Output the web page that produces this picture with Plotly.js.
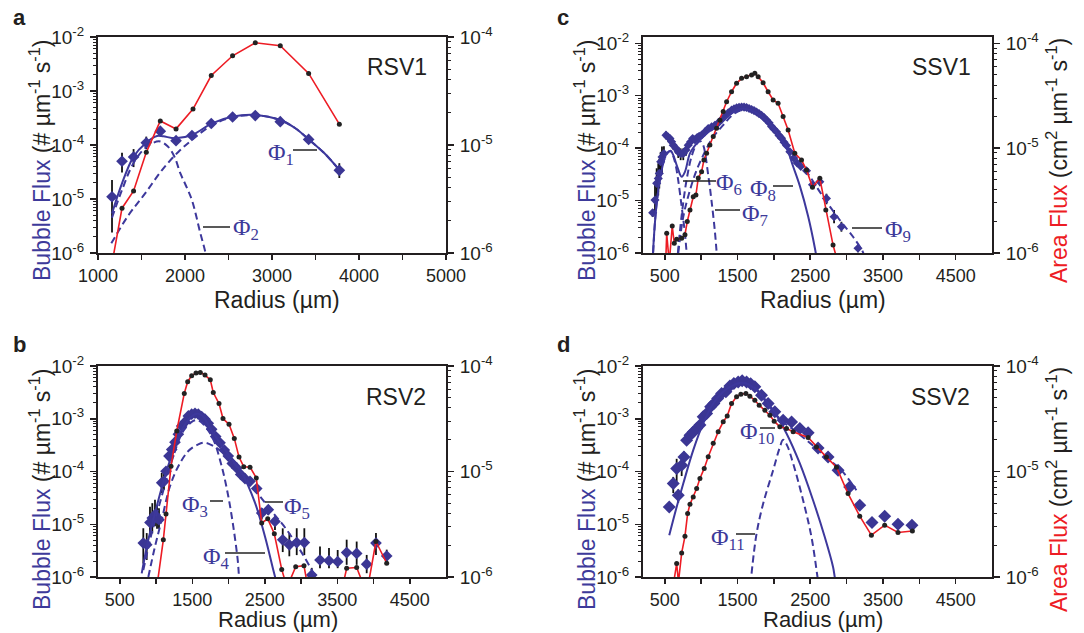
<!DOCTYPE html>
<html><head><meta charset="utf-8">
<script src="https://cdn.plot.ly/plotly-3.0.1.min.js"></script>
<style>html,body{margin:0;padding:0;background:#fff;}#chart{width:1084px;height:633px;}</style>
</head><body><div id="chart"></div>
<script>
// ---------------- Panel a (RSV1) ----------------
const aR = [1161,1276,1409,1555,1716,1897,2080,2302,2547,2808,3095,3421,3774];
const aBubble = [1.1e-5,5.0e-5,6.0e-5,1.1e-4,1.8e-4,1.2e-4,1.5e-4,2.5e-4,3.3e-4,3.5e-4,2.7e-4,1.27e-4,3.4e-5];
const aErrHi = [1.15e-5,2.2e-5,2.4e-5,3.3e-5,1.5e-5,1.2e-5,1.2e-5,1.5e-5,1.5e-5,1.5e-5,1.5e-5,1.2e-5,1.2e-5];
const aErrLo = [8.6e-6,1.9e-5,2.1e-5,2.6e-5,1.5e-5,1.2e-5,1.2e-5,1.5e-5,1.5e-5,1.5e-5,1.5e-5,1.2e-5,9.5e-6];
const aAreaR = [1161,1276,1409,1555,1716,1897,2092,2302,2547,2808,3095,3421,3774];
const aArea = [8e-7,2.6e-6,3.75e-6,8.55e-6,1.67e-5,1.41e-5,2.15e-5,4.4e-5,6.7e-5,8.85e-5,8.3e-5,4.6e-5,1.56e-5];
const aFitR = [1161,1276,1409,1544,1678,1750,1888,2080,2310,2540,2809,3095,3268,3417,3600,3774];
const aFitSum = [5.4e-6,1.95e-5,6.1e-5,1.07e-4,1.47e-4,1.45e-4,1.33e-4,1.53e-4,2.52e-4,3.34e-4,3.6e-4,2.9e-4,2.04e-4,1.29e-4,7.1e-5,3.44e-5];
const aPhi1R = [1153,1352,1544,1736,1926,2080,2310,2540,2809,3095,3268,3417,3600,3774];
const aPhi1 = [1.51e-6,5.06e-6,1.28e-5,3.44e-5,7.52e-5,1.24e-4,2.34e-4,3.24e-4,3.56e-4,2.9e-4,2.04e-4,1.29e-4,7.1e-5,3.44e-5];
const aPhi2R = [1161,1276,1409,1544,1700,1800,1880,1946,2010,2080,2176,2233,2270];
const aPhi2 = [4.5e-6,1.47e-5,4.65e-5,8.8e-5,1.17e-4,9.5e-5,6.0e-5,3.0e-5,1.78e-5,9.5e-6,2.34e-6,1.05e-6,5e-7];

// ---------------- Panel b (RSV2) ----------------
const bR = [825,872,917,949,986,1014,1041,1079,1110,1138,1179,1217,1262,1308,1354,1400,1446,1492,1538,1583,1630,1676,1721,1768,1823,1883,1942,1997,2052,2113,2168,2228,2297,2389,2458,2549,2641,2748,2839,2941,3046,3148,3262,3386,3506,3630,3768,3906,4034,4182];
const bBubble = [4.4e-6,4.1e-6,1.08e-5,1.31e-5,1.52e-5,1.32e-5,1.22e-5,6.1e-5,6.5e-5,1.01e-4,1.96e-4,2.6e-4,3.6e-4,5.1e-4,7.3e-4,8.7e-4,1.13e-3,1.22e-3,1.27e-3,1.22e-3,1.1e-3,9.8e-4,8.2e-4,6.3e-4,4.6e-4,3.5e-4,2.55e-4,1.96e-4,1.42e-4,1.17e-4,8.8e-5,7.3e-5,6.5e-5,4.74e-5,1.63e-5,1.89e-5,1.13e-5,5.07e-6,4.07e-6,4.5e-6,4.5e-6,1.09e-6,2.1e-6,2.04e-6,1.95e-6,2.9e-6,2.8e-6,1.75e-6,4.4e-6,2.5e-6];
const bErrHi = [4.0e-6,2.7e-6,1.07e-5,1.2e-5,1.4e-5,1.0e-5,8e-6,3.3e-5,3.0e-5,2e-5,1.5e-5,2e-5,2.5e-5,3e-5,4e-5,5e-5,6e-5,6e-5,6e-5,6e-5,5e-5,5e-5,4e-5,3e-5,2.5e-5,2e-5,1.5e-5,1.2e-5,1e-5,8e-6,7e-6,6e-6,6e-6,6e-6,4e-6,4e-6,2.7e-6,3.3e-6,2.7e-6,3.9e-6,3.9e-6,4e-7,1.7e-6,1.5e-6,1.3e-6,2.2e-6,1.9e-6,8.7e-7,2.4e-6,8e-7];
const bErrLo = [2.6e-6,2e-6,5e-6,6.4e-6,6e-6,5e-6,4e-6,2.2e-5,2e-5,2e-5,1.5e-5,2e-5,2.5e-5,3e-5,4e-5,5e-5,6e-5,6e-5,6e-5,6e-5,5e-5,5e-5,4e-5,3e-5,2.5e-5,2e-5,1.5e-5,1.2e-5,1e-5,8e-6,7e-6,6e-6,6e-6,6e-6,4e-6,4e-6,3.5e-6,2.1e-6,1.6e-6,1.9e-6,1.9e-6,5e-7,6.3e-7,5.7e-7,4.8e-7,1.2e-6,1.1e-6,5.7e-7,1.8e-6,5.5e-7];
const bAreaR = [1000,1101,1138,1207,1286,1390,1437,1492,1552,1611,1676,1749,1790,1869,1924,2007,2080,2145,2210,2297,2383,2458,2541,2632,2734,2807,2927,3041,3148,3262,3386,3506,3630,3768,3906,4034,4182];
const bArea = [7e-7,2.25e-6,3.95e-6,1.12e-5,2.42e-5,5.5e-5,7.1e-5,8.1e-5,8.57e-5,8.7e-5,8.2e-5,7.4e-5,5.6e-5,4.4e-5,3.18e-5,2.8e-5,2.06e-5,1.37e-5,1.11e-5,1.1e-5,8.7e-6,3.25e-6,3.56e-6,2.57e-6,1.18e-6,8e-7,1.25e-6,1.28e-6,5e-7,4e-7,4e-7,5e-7,1.21e-6,1.23e-6,7e-7,2.17e-6,1.35e-6];
const bPhi4R = [803,894,1010,1124,1262,1400,1538,1630,1768,1997,2182,2366,2503,2618,2641,2660];
const bPhi4 = [1.17e-6,5.07e-6,2.18e-5,8.13e-5,3.03e-4,7.85e-4,1.22e-3,1.17e-3,5.86e-4,2.11e-4,9.44e-5,2.54e-5,5.86e-6,1.36e-6,1.02e-6,7.9e-7];
const bPhi3R = [825,941,1079,1239,1377,1514,1583,1676,1790,1906,1997,2066,2127,2145,2160];
const bPhi3 = [1.36e-6,6.79e-6,3.39e-5,1.95e-4,5.86e-4,9.08e-4,9.35e-4,7.3e-4,4.07e-4,1.26e-4,3.39e-5,9.08e-6,2.11e-6,1.01e-6,6.3e-7];
const bPhi5R = [894,986,1079,1193,1308,1446,1583,1676,1790,1928,2066,2251,2434,2618,2803,2986,3148,3193,3220];
const bPhi5 = [1e-6,3.78e-6,1.22e-5,5.25e-5,1.26e-4,2.44e-4,3.27e-4,3.52e-4,3.03e-4,2.27e-4,1.47e-4,7.05e-5,3.39e-5,1.63e-5,7.85e-6,3.27e-6,1.36e-6,1.02e-6,7.9e-7];

// ---------------- Panel c (SSV1) ----------------
const cR = [333,365,388,410,424,443,461,488,516,543,571,594,616,653,685,718,754,791,822,855,883,914,945,973,1006,1052,1097,1144,1189,1234,1281,1326,1372,1418,1452,1487,1521,1556,1590,1624,1659,1693,1727,1762,1796,1830,1865,1899,1934,1968,2002,2036,2071,2105,2140,2174,2220,2274,2320,2370,2449,2531,2632,2723,2828,2929,3157];
const cBubble = [5.86e-6,1.02e-5,2.13e-5,2.65e-5,3.3e-5,5.5e-5,6.8e-5,7.9e-5,1.77e-4,1.64e-4,1.53e-4,1.32e-4,1.14e-4,9.9e-5,8.5e-5,7.9e-5,7.9e-5,9.2e-5,1.14e-4,1.32e-4,1.53e-4,1.45e-4,1.6e-4,1.69e-4,1.77e-4,2.04e-4,2.37e-4,2.55e-4,2.74e-4,3.03e-4,3.52e-4,4.07e-4,4.7e-4,5.3e-4,5.6e-4,5.86e-4,6.0e-4,6.1e-4,6.05e-4,5.95e-4,5.7e-4,5.46e-4,5.2e-4,4.9e-4,4.55e-4,4.25e-4,3.85e-4,3.45e-4,3.05e-4,2.6e-4,2.3e-4,2.05e-4,1.75e-4,1.55e-4,1.3e-4,1.12e-4,8.5e-5,6.5e-5,5.2e-5,4.5e-5,3.7e-5,2.0e-5,2.28e-5,1.1e-5,4.9e-6,3.17e-6,1.23e-6];
const cErrHi = [1e-6,1e-5,2e-5,2.5e-5,3e-5,3e-5,4e-5,3e-5,3e-5,3e-5,2.5e-5,2e-5,2e-5,2e-5,2e-5,2e-5,2e-5,2e-5,1.5e-5,1.5e-5,1.5e-5,1.5e-5,1.5e-5,1e-5,1e-5,1.2e-5,1.4e-5,1.5e-5,1.6e-5,1.8e-5,2e-5,2.4e-5,2.8e-5,3e-5,3e-5,3.5e-5,3.5e-5,3.5e-5,3.5e-5,3.5e-5,3.4e-5,3.2e-5,3e-5,2.9e-5,2.7e-5,2.5e-5,2.3e-5,2e-5,1.8e-5,1.5e-5,1.4e-5,1.2e-5,1e-5,9e-6,8e-6,7e-6,6e-6,5e-6,4e-6,4e-6,4e-6,3e-6,4e-6,2.5e-6,1.7e-6,7.7e-7,2e-7];
const cErrLo = [1e-6,5e-6,1.2e-5,1.4e-5,1.6e-5,2.5e-5,3.5e-5,2e-5,3e-5,3e-5,2.5e-5,2e-5,2e-5,2e-5,2e-5,2e-5,2e-5,2e-5,1.5e-5,1.5e-5,1.5e-5,1.5e-5,1.5e-5,1e-5,1e-5,1.2e-5,1.4e-5,1.5e-5,1.6e-5,1.8e-5,2e-5,2.4e-5,2.8e-5,3e-5,3e-5,3.5e-5,3.5e-5,3.5e-5,3.5e-5,3.5e-5,3.4e-5,3.2e-5,3e-5,2.9e-5,2.7e-5,2.5e-5,2.3e-5,2e-5,1.8e-5,1.5e-5,1.4e-5,1.2e-5,1e-5,9e-6,8e-6,7e-6,6e-6,5e-6,4e-6,4e-6,4e-6,3e-6,4e-6,2.5e-6,1.2e-6,6.2e-7,2e-7];
const cAreaR = [502,526,561,602,630,663,732,777,809,846,891,928,960,1006,1038,1075,1120,1166,1212,1258,1303,1350,1418,1487,1556,1624,1693,1738,1784,1852,1921,1990,2058,2127,2196,2288,2380,2449,2531,2632,2714,2814,2883];
const cArea = [5e-7,1.54e-6,8e-7,1.81e-6,1.24e-6,1.35e-6,1.38e-6,1.49e-6,2.0e-6,2.57e-6,3.44e-6,3.57e-6,5.19e-6,5.96e-6,7.7e-6,8.93e-6,1.07e-5,1.29e-5,1.55e-5,1.85e-5,2.23e-5,2.77e-5,3.45e-5,4.15e-5,4.63e-5,4.8e-5,4.99e-5,5.17e-5,4.8e-5,4.2e-5,3.45e-5,2.88e-5,2.68e-5,2.0e-5,1.49e-5,8.93e-6,7.7e-6,6.2e-6,4.24e-6,5.15e-6,2.57e-6,1.19e-6,8e-7];
const cFitR = [333,360,388,420,457,490,526,580,616,671,732,777,846,938,1075,1212,1350,1487,1578,1670,1807,1990,2174,2265,2357,2471,2563,2600];
const cFit = [7.9e-7,3.16e-6,8.85e-6,2.0e-5,3.81e-5,6.03e-5,7.92e-5,8.89e-5,7.36e-5,4.41e-5,2.84e-5,3.54e-5,7.92e-5,1.23e-4,1.91e-4,2.55e-4,3.85e-4,5.3e-4,5.7e-4,5.3e-4,4.26e-4,2.4e-4,1.0e-4,4.47e-5,1.91e-5,5.0e-6,1.26e-6,6.3e-7];
const cPhi6R = [333,360,388,457,526,580,616,650,685,732,777,800,815];
const cPhi6 = [6.3e-7,3.16e-6,8.85e-6,3.81e-5,7.76e-5,8.71e-5,7.08e-5,4.68e-5,2.4e-5,7.59e-6,2.34e-6,1.0e-6,5.0e-7];
const cPhi7R = [680,730,800,870,940,990,1028,1097,1144,1189,1212,1225];
const cPhi7 = [1e-6,5.0e-6,2.51e-5,7.08e-5,1.2e-4,1.35e-4,1.14e-4,3.06e-5,9.48e-6,2.55e-6,1.06e-6,6.3e-7];
const cPhi9R = [685,754,846,938,1052,1166,1303,1420,1560,1700,1830,1990,2219,2450,2677,2906,3089,3226,3250];
const cPhi9 = [1e-6,4.91e-6,1.58e-5,3.81e-5,8.51e-5,1.64e-4,2.74e-4,4.17e-4,5.37e-4,5.25e-4,3.98e-4,2.51e-4,9.16e-5,3.55e-5,1.18e-5,4.26e-6,2.04e-6,1.03e-6,7.9e-7];

// ---------------- Panel d (SSV2) ----------------
const dR = [561,616,663,685,732,763,800,846,891,938,983,1028,1075,1130,1175,1226,1281,1340,1395,1450,1509,1564,1624,1680,1738,1830,1921,2013,2127,2243,2357,2471,2608,2745,2883,3043,3181,3350,3524,3707,3899];
const dBubble = [2.13e-5,5.9e-5,1.14e-4,3.55e-5,1.32e-4,1.89e-4,3.92e-4,4.89e-4,5.6e-4,6.5e-4,7.6e-4,1.09e-3,1.26e-3,1.68e-3,1.95e-3,2.43e-3,3.02e-3,3.24e-3,4.16e-3,4.67e-3,5.0e-3,5.24e-3,5.0e-3,4.6e-3,4.03e-3,2.8e-3,1.95e-3,1.35e-3,9.4e-4,8.7e-4,6.5e-4,5.4e-4,2.8e-4,1.89e-4,1.06e-4,5.1e-5,2.3e-5,1.08e-5,1.42e-5,1.0e-5,9.6e-6];
const dErrHi = [0,2e-5,6e-5,1e-5,8e-5,5e-5,4e-5,3e-5,3e-5,4e-5,4e-5,6e-5,7e-5,9e-5,1e-4,1.2e-4,1.5e-4,1.6e-4,2e-4,2.3e-4,2.5e-4,2.6e-4,2.5e-4,2.3e-4,2e-4,1.4e-4,1e-4,7e-5,5e-5,4e-5,3e-5,2.7e-5,1.4e-5,1e-5,5e-6,2.5e-6,1.2e-6,5e-7,7e-7,5e-7,5e-7];
const dErrLo = [0,2e-5,5e-5,1e-5,5e-5,4e-5,4e-5,3e-5,3e-5,4e-5,4e-5,6e-5,7e-5,9e-5,1e-4,1.2e-4,1.5e-4,1.6e-4,2e-4,2.3e-4,2.5e-4,2.6e-4,2.5e-4,2.3e-4,2e-4,1.4e-4,1e-4,7e-5,5e-5,4e-5,3e-5,2.7e-5,1.4e-5,1e-5,5e-6,2.5e-6,1.2e-6,5e-7,7e-7,5e-7,5e-7];
const dAreaR = [612,663,688,732,777,814,846,891,938,983,1042,1097,1166,1234,1303,1358,1418,1487,1546,1615,1670,1738,1798,1876,1945,2004,2082,2174,2265,2471,2586,2723,2861,3020,3181,3341,3524,3707,3905];
const dArea = [8e-7,1.34e-6,9e-7,1.69e-6,2.43e-6,4.0e-6,4.9e-6,5.74e-6,6.9e-6,8.6e-6,1.07e-5,1.38e-5,1.85e-5,2.38e-5,2.96e-5,3.35e-5,4.42e-5,5.1e-5,5.41e-5,5.5e-5,5.18e-5,4.74e-5,4.25e-5,3.81e-5,3.42e-5,3.0e-5,2.65e-5,2.56e-5,2.38e-5,2.1e-5,1.71e-5,1.37e-5,1.1e-5,6.18e-6,3.77e-6,2.49e-6,3.1e-6,2.64e-6,2.73e-6];
const dPhi10R = [561,663,754,891,1028,1166,1303,1440,1556,1670,1807,1990,2174,2357,2539,2700,2814,2837,2860];
const dPhi10 = [6.18e-6,2.13e-5,5.92e-5,2.54e-4,8.15e-4,1.95e-3,3.24e-3,4.35e-3,4.8e-3,4.35e-3,3.02e-3,1.46e-3,5.26e-4,1.42e-4,2.85e-5,5.74e-6,1.55e-6,1.0e-6,6.3e-7];
const dPhi11R = [1693,1762,1853,1990,2080,2127,2180,2265,2402,2517,2600,2615];
const dPhi11 = [1.16e-6,6.65e-6,2.47e-5,1.06e-4,2.82e-4,3.98e-4,3.16e-4,1.42e-4,2.85e-5,5.74e-6,1.0e-6,7.1e-7];
const dWideR = [1440,1556,1670,1807,1899,2000,2127,2265,2449,2600,2769,2927,3135];
const dWide = [4.35e-3,4.8e-3,4.4e-3,3.16e-3,1.95e-3,1.35e-3,8.71e-4,6.31e-4,3.93e-4,2.63e-4,1.64e-4,1.06e-4,4.42e-5];

// ---------------- Tick labels ----------------
const xTicksA = [1000,1500,2000,2500,3000,3500,4000,4500,5000];
const xLabelsA = ['1000','','2000','','3000','','4000','','5000'];
const xTicksB = [500,1000,1500,2000,2500,3000,3500,4000,4500];
const xLabelsB = ['500','','1500','','2500','','3500','','4500'];
const decadeExp = [-6,-5,-4,-3,-2];

// ---------------- Styling ----------------
const W = 1084, H = 633;
const FONT = 'Liberation Sans, Arial, Helvetica, sans-serif';
const SERIF = 'Liberation Serif, Times New Roman, serif';
const BLUE = '#3b3694', FITBLUE = '#3d389c', RED = '#ed1c24', INK = '#231f20';
const TICKSIZE = 19, XTICKSIZE = 18;
const fx = p => p / W, fy = p => 1 - p / H;

function logTicks(lo, hi) {
  const major = [], text = [], minor = [];
  decadeExp.forEach(e => {
    if (e >= lo && e <= hi) { major.push(Math.pow(10, e)); text.push('10<sup>' + e + '</sup>'); }
    for (let m = 2; m <= 9; m++) { const v = m * Math.pow(10, e); if (Math.log10(v) <= hi + 1e-9) minor.push(v); }
  });
  return {major, text, minor};
}
function xAxis(d0, d1, range, vals, labels, anchor) {
  return {domain: [fx(d0), fx(d1)], range, type: 'linear', anchor,
    tickmode: 'array', tickvals: vals, ticktext: labels, ticks: 'outside', ticklen: 5, tickwidth: 1.5, tickcolor: INK,
    showline: true, linewidth: 2, linecolor: INK, mirror: true, showgrid: false, zeroline: false, ticklabelstandoff: 0,
    tickfont: {family: FONT, size: XTICKSIZE, color: INK}};
}
function yAxis(p0, p1, range, anchor, overlay) {
  const t = logTicks(range[0], range[1]);
  const ax = {type: 'log', range, anchor,
    tickmode: 'array', tickvals: t.major, ticktext: t.text, ticks: 'outside', ticklen: 6, tickwidth: 1.5, tickcolor: INK,
    minor: {tickmode: 'array', tickvals: t.minor, ticks: 'outside', ticklen: 3, tickwidth: 1, tickcolor: INK, showgrid: false},
    showline: true, linewidth: 2, linecolor: INK, showgrid: false, zeroline: false, ticklabelstandoff: 2,
    tickfont: {family: FONT, size: TICKSIZE, color: INK}};
  if (overlay) { ax.overlaying = overlay; ax.side = 'right'; }
  else { ax.domain = [fy(p1), fy(p0)]; ax.side = 'left'; }
  return ax;
}

function bubble(x, y, hi, lo, xa, ya, size) {
  return {type: 'scatter', mode: 'markers', x, y, xaxis: xa, yaxis: ya,
    marker: {symbol: 'diamond', size: size, color: BLUE},
    error_y: {type: 'data', symmetric: false, array: hi, arrayminus: lo, color: '#111', thickness: 1.8, width: 0, visible: true}};
}
function area(x, y, xa, ya) {
  return {type: 'scatter', mode: 'lines+markers', x, y, xaxis: xa, yaxis: ya,
    line: {color: RED, width: 1.6}, marker: {size: 5, color: '#222'}};
}
function fit(x, y, xa, ya, dashed) {
  return {type: 'scatter', mode: 'lines', x, y, xaxis: xa, yaxis: ya,
    line: {color: FITBLUE, width: 2, shape: 'spline', dash: dashed ? '7px,4px' : 'solid'}};
}

const traces = [
  bubble(aR, aBubble, aErrHi, aErrLo, 'x', 'y', 9),
  fit(aFitR, aFitSum, 'x', 'y', false),
  fit(aPhi1R, aPhi1, 'x', 'y', true),
  fit(aPhi2R, aPhi2, 'x', 'y', true),
  area(aAreaR, aArea, 'x', 'y2'),

  bubble(bR, bBubble, bErrHi, bErrLo, 'x2', 'y3', 9),
  fit(bPhi4R, bPhi4, 'x2', 'y3', false),
  fit(bPhi3R, bPhi3, 'x2', 'y3', true),
  fit(bPhi5R, bPhi5, 'x2', 'y3', true),
  area(bAreaR, bArea, 'x2', 'y4'),

  bubble(cR, cBubble, cErrHi, cErrLo, 'x3', 'y5', 7),
  fit(cFitR, cFit, 'x3', 'y5', false),
  fit(cPhi6R, cPhi6, 'x3', 'y5', true),
  fit(cPhi7R, cPhi7, 'x3', 'y5', true),
  fit(cPhi9R, cPhi9, 'x3', 'y5', true),
  area(cAreaR, cArea, 'x3', 'y6'),

  bubble(dR, dBubble, dErrHi, dErrLo, 'x4', 'y7', 10),
  fit(dPhi10R, dPhi10, 'x4', 'y7', false),
  fit(dPhi11R, dPhi11, 'x4', 'y7', true),
  fit(dWideR, dWide, 'x4', 'y7', true),
  area(dAreaR, dArea, 'x4', 'y8')
];

function ann(text, x, y, size, extra) {
  return Object.assign({xref: 'paper', yref: 'paper', x: fx(x), y: fy(y), text, showarrow: false,
    xanchor: 'center', yanchor: 'middle', font: {family: FONT, size, color: INK}}, extra || {});
}
const bubbleTitle = '<span style="color:#3d3a9a">Bubble Flux</span> (# µm<sup>-1</sup> s<sup>-1</sup>)';
const areaTitle = '<span style="color:#ed1c24">Area Flux</span> (cm<sup>2</sup> µm<sup>-1</sup> s<sup>-1</sup>)';
function phi(n, x, y) {
  return ann('Φ<sub>' + n + '</sub>', x, y, 24, {font: {family: SERIF, size: 24, color: '#3d3a9a'}});
}
function leader(x0, x1, y) {
  return {type: 'line', xref: 'paper', yref: 'paper', x0: fx(x0), x1: fx(x1), y0: fy(y), y1: fy(y), line: {color: '#222', width: 1.5}};
}

const annotations = [
  ann('<b>a</b>', 19, 17, 22), ann('<b>b</b>', 19, 344, 22), ann('<b>c</b>', 563, 17, 22), ann('<b>d</b>', 563, 344, 22),
  ann('RSV1', 397, 67, 23), ann('RSV2', 396, 397, 23), ann('SSV1', 941, 67, 23), ann('SSV2', 940, 397, 23),
  ann('Radius (µm)', 277, 300, 23), ann('Radius (µm)', 823, 300, 23),
  ann('Radius (µm)', 278, 633, 22, {yanchor: 'bottom', borderpad: 0}), ann('Radius (µm)', 823, 633, 22, {yanchor: 'bottom', borderpad: 0}),
  ann(bubbleTitle, 40, 161, 23, {textangle: -90}), ann(bubbleTitle, 40, 490, 23, {textangle: -90}),
  ann(bubbleTitle, 585, 161, 23, {textangle: -90}), ann(bubbleTitle, 585, 490, 23, {textangle: -90}),
  ann(areaTitle, 1057, 161, 23, {textangle: -90}), ann(areaTitle, 1057, 490, 23, {textangle: -90}),
  phi(1, 281, 154), phi(2, 246, 229), phi(3, 195, 506), phi(4, 216, 558), phi(5, 297, 508),
  phi(6, 729, 184), phi(7, 755, 215), phi(8, 763, 190), phi(9, 898, 231), phi(10, 757, 433), phi(11, 728, 539)
];
const shapes = [
  leader(293, 317, 150), leader(203, 230, 227), leader(210, 223, 501), leader(225, 265, 553), leader(265, 283, 502),
  leader(683, 716, 181), leader(715, 740, 210), leader(773, 793, 186), leader(852, 882, 228), leader(760, 775, 428), leader(736, 755, 534)
];

const layout = {
  width: W, height: H, margin: {l: 0, r: 0, t: 0, b: 0, pad: 0},
  paper_bgcolor: '#fff', plot_bgcolor: '#fff', showlegend: false,
  font: {family: FONT, color: INK},
  xaxis: xAxis(98, 446, [1000, 5000], xTicksA, xLabelsA, 'y'),
  yaxis: yAxis(37, 253, [-6, -2], 'x'),
  yaxis2: yAxis(37, 253, [-6, -4], 'x', 'y'),
  xaxis2: xAxis(98, 446, [200, 5000], xTicksB, xLabelsB, 'y3'),
  yaxis3: yAxis(366, 577, [-6, -2], 'x2'),
  yaxis4: yAxis(366, 577, [-6, -4], 'x2', 'y3'),
  xaxis3: xAxis(643, 992, [200, 5000], xTicksB, xLabelsB, 'y5'),
  yaxis5: yAxis(37, 253, [-6, -1.88], 'x3'),
  yaxis6: yAxis(37, 253, [-6, -3.94], 'x3', 'y5'),
  xaxis4: xAxis(643, 992, [200, 5000], xTicksB, xLabelsB, 'y7'),
  yaxis7: yAxis(366, 577, [-6, -2], 'x4'),
  yaxis8: yAxis(366, 577, [-6, -4], 'x4', 'y7'),
  annotations, shapes
};
Plotly.newPlot('chart', traces, layout, {displayModeBar: false, staticPlot: true});
</script></body></html>
